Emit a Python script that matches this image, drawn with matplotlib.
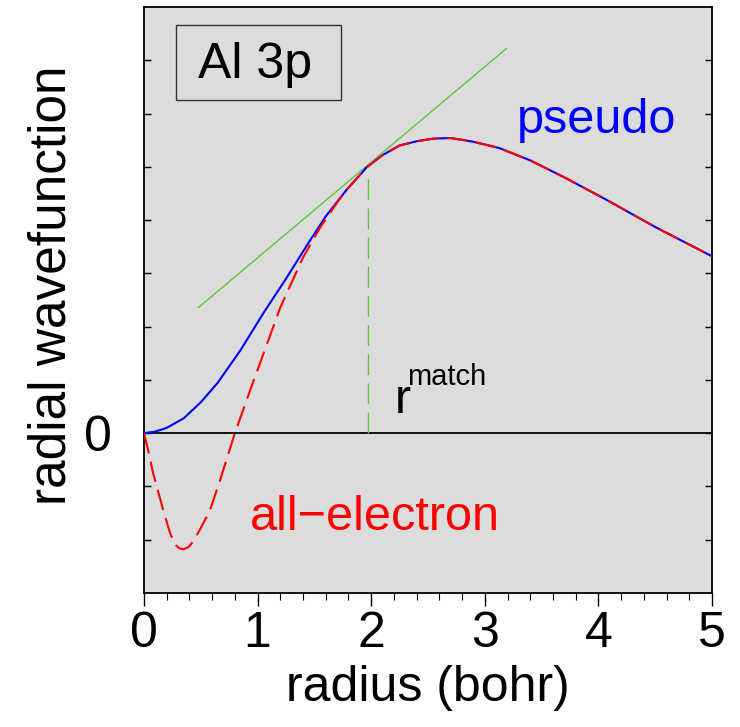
import numpy as np
import matplotlib
matplotlib.use("Agg")
import matplotlib.pyplot as plt
from matplotlib.patches import Rectangle

plt.rcParams['font.family'] = ['Liberation Sans', 'DejaVu Sans']
plt.rcParams['lines.scale_dashes'] = False

# pseudo wavefunction
r_pseudo = [0, 0.1, 0.2, 0.35, 0.5, 0.65, 0.85, 1.05, 1.25, 1.45, 1.6, 1.78,
            1.96, 2.1, 2.25, 2.4, 2.55, 2.7, 2.9, 3.13, 3.4, 3.72, 4.08, 4.5, 5.0]
psi_pseudo = [0, 0.03, 0.1, 0.28, 0.58, 0.95, 1.56, 2.25, 2.9, 3.58, 4.07, 4.56,
              4.99, 5.22, 5.40, 5.48, 5.53, 5.54, 5.47, 5.35, 5.12, 4.78, 4.37, 3.87, 3.32]

# all-electron wavefunction, inner part; joins the pseudo curve past r = 1.78
r_ae_core = [0, 0.04, 0.08, 0.17, 0.23, 0.27, 0.31, 0.345, 0.39, 0.43, 0.5, 0.58,
             0.67, 0.8, 0.95, 1.2, 1.4, 1.55, 1.7]
psi_ae_core = [0, -0.35, -0.75, -1.45, -1.88, -2.08, -2.16, -2.18, -2.14, -2.04,
               -1.78, -1.45, -0.88, 0, 0.9, 2.36, 3.3, 3.86, 4.33]

# tangent line and matching radius
r_tangent = [0.48, 3.19]
psi_tangent = [2.36, 7.22]
r_match = 1.97
psi_match_top = 4.83

r_ae = r_ae_core + [r for r in r_pseudo if r >= 1.78]
psi_ae = psi_ae_core + [p for r, p in zip(r_pseudo, psi_pseudo) if r >= 1.78]

fig = plt.figure(figsize=(7.4, 7.27), dpi=100)
ax = fig.add_axes([0.1946, 0.1843, 0.9622 - 0.1946, 0.9904 - 0.1843])
ax.set_facecolor('#dcdcdc')

ax.axhline(0, color='black', lw=1.3, zorder=2)
ax.plot(r_tangent, psi_tangent, color='#5fc43c', lw=1.0, zorder=3)
ax.plot([r_match, r_match], [0, psi_match_top], color='#5fc43c', lw=1.0,
        dashes=(15, 6), zorder=3)
ax.plot(r_pseudo, psi_pseudo, color='blue', lw=1.5, zorder=4)
ax.plot(r_ae, psi_ae, color='red', lw=1.5, dashes=(15, 6), zorder=5)

# labels inside the plot
ax.add_patch(Rectangle((0.28, 6.25), 1.45, 1.42, fill=False, edgecolor='#333333',
                       lw=1.0, zorder=6))
ax.text(0.977, 6.66, 'Al 3p', fontsize=36, ha='center', va='baseline', zorder=7)
ax.text(3.28, 5.63, 'pseudo', fontsize=35, color='blue', va='baseline')
ax.text(0.93, -1.82, 'all\u2212electron', fontsize=35, color='red', va='baseline')
ax.text(2.21, 0.375, 'r', fontsize=35, va='baseline')
ax.text(2.32, 0.9, 'match', fontsize=21, va='baseline')

ax.set_xlim(0, 5)
ax.set_ylim(-3, 8)
ax.set_xticks([0, 1, 2, 3, 4, 5])
ax.set_xticks(np.arange(0, 5.01, 0.2), minor=True)
ax.set_yticks([-2, -1, 0, 1, 2, 3, 4, 5, 6, 7])
ax.set_yticklabels(['', '', '0', '', '', '', '', '', '', ''])
ax.tick_params(axis='x', which='major', direction='out', length=9, width=1,
               labelsize=36, pad=4)
ax.tick_params(axis='x', which='minor', direction='out', length=5, width=0.8)
ax.tick_params(axis='y', direction='in', length=5, width=1, left=True,
               right=True, labelsize=36, pad=23)
ax.tick_params(axis='x', top=False)
for s in ax.spines.values():
    s.set_linewidth(1.3)

ax.set_xlabel('radius (bohr)', fontsize=36, labelpad=6)
ax.set_ylabel('radial wavefunction', fontsize=37)
ax.yaxis.set_label_coords(-0.118, 0.526)

fig.savefig('out.png', dpi=100)
